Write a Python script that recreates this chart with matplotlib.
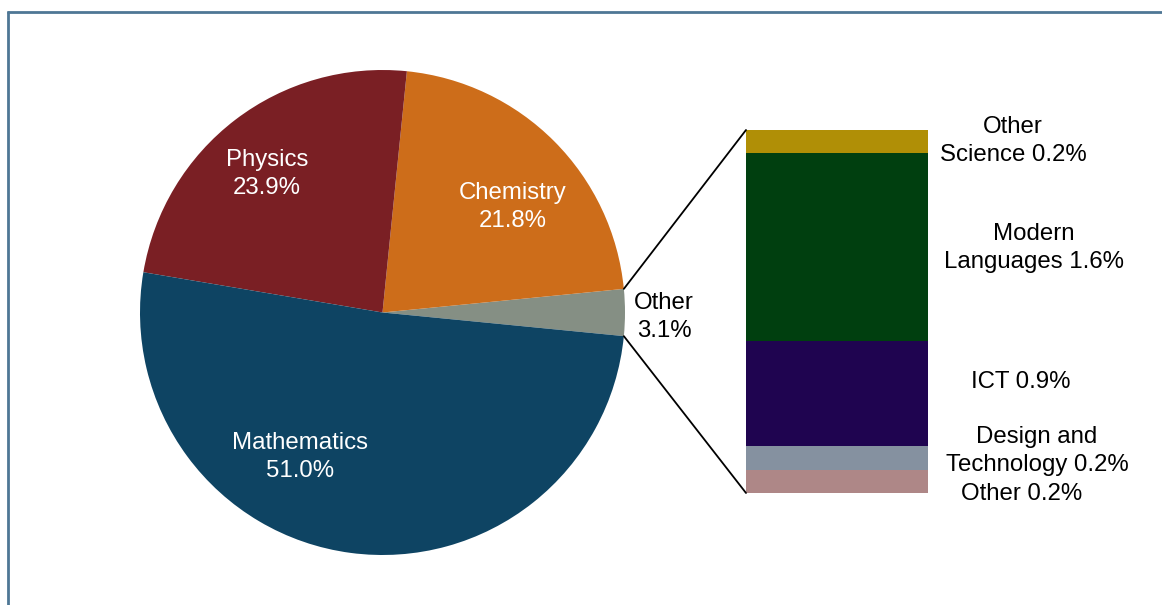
import numpy as np
import matplotlib
matplotlib.use("Agg")
import matplotlib.pyplot as plt
from matplotlib.patches import ConnectionPatch
from matplotlib.lines import Line2D

plt.rcParams['font.family'] = ['Liberation Sans', 'DejaVu Sans']

# ---- data ----
pie_labels = ["Other", "Chemistry", "Physics", "Mathematics"]
pie_values = [3.1, 21.8, 23.9, 51.0]
pie_colors = ["#858f84", "#cd6d1a", "#7a1f24", "#0e4463"]

bar_labels = ["Other", "Design and\nTechnology", "ICT", "Modern\nLanguages", "Other\nScience"]
bar_values = [0.2, 0.2, 0.9, 1.6, 0.2]
bar_colors = ["#ae8787", "#8591a0", "#1f0450", "#003f0f", "#b08f06"]

W, H = 1162, 605
fig = plt.figure(figsize=(W / 100, H / 100), dpi=100)
FS = 17.3

# frame
fig.add_artist(Line2D([7.5 / W, 7.5 / W], [1 - 11 / H, 0], color="#4e7795", lw=2.0,
                      solid_capstyle="butt"))
fig.add_artist(Line2D([6.5 / W, 1], [1 - 11.5 / H, 1 - 11.5 / H], color="#4e7795", lw=2.0,
                      solid_capstyle="butt"))

# pie
cx, cy, r = 382.5, 312.5, 242.5
ax = fig.add_axes([(cx - r) / W, (H - cy - r) / H, 2 * r / W, 2 * r / H])
total = sum(pie_values)
start = -pie_values[0] / total * 360 / 2
wedges, _ = ax.pie(pie_values, colors=pie_colors, startangle=start, counterclock=True,
                   radius=1, wedgeprops=dict(linewidth=0))
ax.set_xlim(-1, 1)
ax.set_ylim(-1, 1)
ax.set_aspect("auto")
ax.axis("off")

def px2d(px, py):
    return (px - cx) / r, (cy - py) / r

label_pos = {"Other": (664, 317), "Chemistry": (513, 207), "Physics": (267, 174), "Mathematics": (300, 457)}
for lab, val in zip(pie_labels, pie_values):
    x, y = px2d(*label_pos[lab])
    col = "black" if lab == "Other" else "white"
    ax.text(x, y, f"{lab}\n{val:.1f}%", ha="center", va="center", color=col,
            fontsize=FS, linespacing=1.33, clip_on=False)

# bar
bx0, bx1, by0, by1 = 746, 928, 130, 493
bax = fig.add_axes([bx0 / W, (H - by1) / H, (bx1 - bx0) / W, (by1 - by0) / H])
bottom = 0
bar_sum = sum(bar_values)
lab_x = [1022, 1037, 1021, 1034, 1013]
lab_dy = [13, -7, -11, 1, -1]
for lab, val, col, lx, dy in zip(bar_labels, bar_values, bar_colors, lab_x, lab_dy):
    bax.bar(0, val, width=1, bottom=bottom, color=col, align="edge", linewidth=0)
    ymid = bottom + val / 2
    xa = (lx - bx0) / (bx1 - bx0)
    bax.annotate(f"{lab} {val:.1f}%", xy=(xa, ymid), xycoords=("axes fraction", "data"),
                 xytext=(0, -dy * 0.72), textcoords="offset points",
                 ha="center", va="center", fontsize=FS, linespacing=1.33,
                 annotation_clip=False)
    bottom += val
bax.set_xlim(0, 1)
bax.set_ylim(0, bar_sum)
bax.axis("off")

# connectors
w0 = wedges[0]
for ang, yb in [(w0.theta2, bar_sum), (w0.theta1, 0)]:
    xa, ya = np.cos(np.radians(ang)), np.sin(np.radians(ang))
    con = ConnectionPatch(xyA=(xa, ya), coordsA=ax.transData, xyB=(0, yb), coordsB=bax.transData,
                          color="black", lw=1.3)
    fig.add_artist(con)

fig.savefig("out.png", dpi=100)
